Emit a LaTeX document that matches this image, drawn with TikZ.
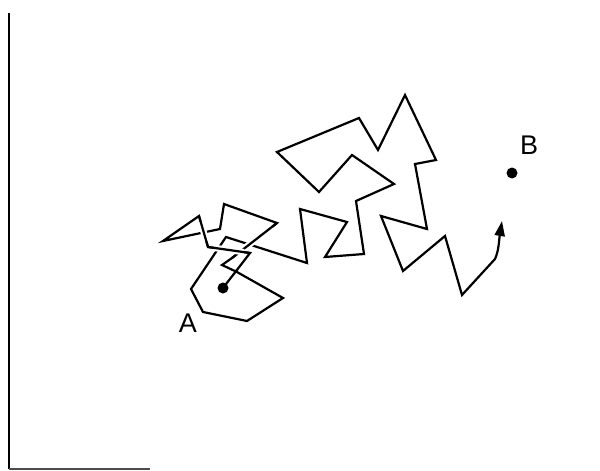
\documentclass[tikz,border=0pt]{standalone}
\usepackage{fontspec}
\setmainfont{Liberation Sans}
\usetikzlibrary{arrows.meta}
\begin{document}
\begin{tikzpicture}[x=1pt,y=-1pt,
  walk/.style={line width=2.2pt, line join=miter},
  halo/.style={white, line width=6.5pt, shorten <=6pt, shorten >=6pt},
  dotmark/.style={circle, fill=black, inner sep=0pt, minimum size=11pt},
  lbl/.style={font=\fontsize{27}{30}\selectfont, inner sep=0pt}]
\useasboundingbox (0,0) rectangle (600,471);
% frame
\coordinate (ft) at (9,13);
\coordinate (fc) at (9,469);
\coordinate (fe) at (150,469);
\draw[line width=2.4pt] (ft) -- (fc);
\draw[line width=1.6pt, black!70] (fc) -- (fe);
% walk points
\coordinate (p0) at (223,288);
\coordinate (p1) at (250,253);
\coordinate (p2) at (208,247);
\coordinate (p3) at (199,216);
\coordinate (p4) at (163,241);
\coordinate (p5) at (220,229);
\coordinate (p6) at (224,204);
\coordinate (p7) at (277,223);
\coordinate (p8) at (232,258);
\coordinate (p9) at (222,265);
\coordinate (p10) at (237,272);
\coordinate (p11) at (283,298);
\coordinate (p12) at (247,321);
\coordinate (p13) at (203,312);
\coordinate (p14) at (191,289);
\coordinate (p15) at (226,237);
\coordinate (p16) at (307,263);
\coordinate (p17) at (300,209);
\coordinate (p18) at (347,222);
\coordinate (p19) at (325,257);
\coordinate (p20) at (364,254);
\coordinate (p21) at (356,201);
\coordinate (p22) at (394,184);
\coordinate (p23) at (352,155);
\coordinate (p24) at (319,192);
\coordinate (p25) at (277,152);
\coordinate (p26) at (359,118);
\coordinate (p27) at (378,150);
\coordinate (p28) at (405,95);
\coordinate (p29) at (436,160);
\coordinate (p30) at (415,164);
\coordinate (p31) at (427,229);
\coordinate (p32) at (381,216);
\coordinate (p33) at (403,271);
\coordinate (p34) at (445,236);
\coordinate (p35) at (462,295);
\coordinate (p36) at (495,259);
\coordinate (p37) at (502,221);
% the walk
\draw[walk, -{Triangle[length=15pt,width=10pt]}]
  (p0) -- (p1) -- (p2) -- (p3) -- (p4) -- (p5) -- (p6) -- (p7) -- (p8)
  -- (p9) -- (p10) -- (p11) -- (p12) -- (p13) -- (p14) -- (p15) -- (p16)
  -- (p17) -- (p18) -- (p19) -- (p20) -- (p21) -- (p22) -- (p23) -- (p24)
  -- (p25) -- (p26) -- (p27) -- (p28) -- (p29) -- (p30) -- (p31) -- (p32)
  -- (p33) -- (p34) -- (p35) -- (p36) .. controls (499,250) and (499,240) .. (p37);
% over-crossings
\draw[halo] (p7) -- (p8);
\draw[walk] (p7) -- (p8);
\draw[halo] (p1) -- (p2);
\draw[walk] (p1) -- (p2);
\draw[halo] (p2) -- (p3);
\draw[walk] (p2) -- (p3);
% points A and B
\node[dotmark] (A) at (p0) {};
\node[dotmark] (B) at (512,173) {};
\node[lbl] (la) at (188,323) {A};
\node[lbl] (lb) at (529,145) {B};
\end{tikzpicture}
\end{document}
